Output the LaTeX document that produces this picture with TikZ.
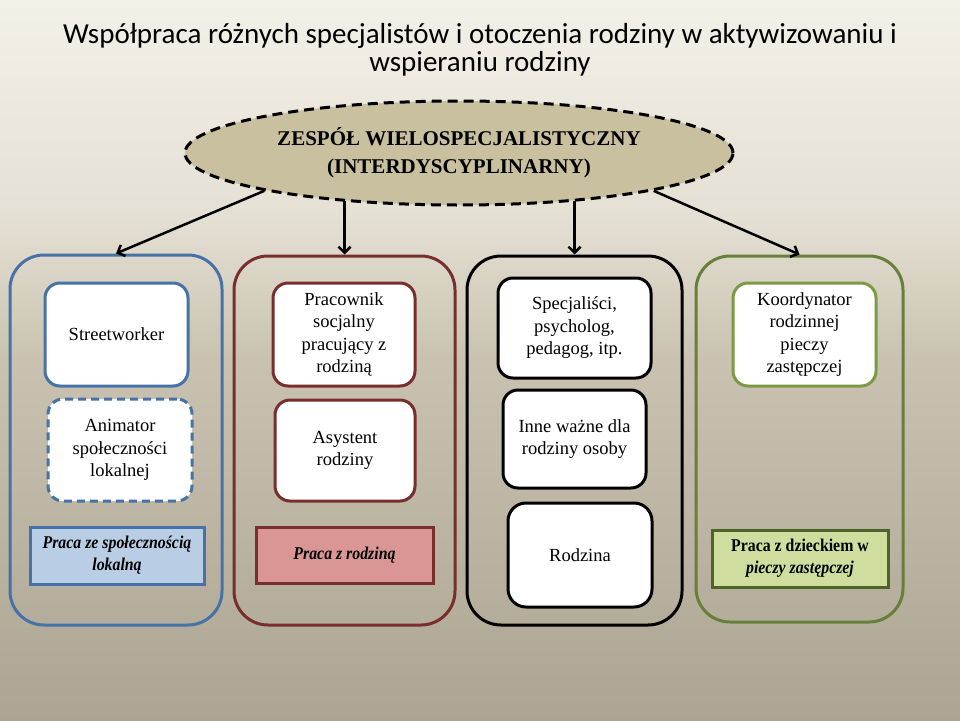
\documentclass[tikz,border=0pt]{standalone}
\usepackage{fontspec}
\setmainfont{Liberation Serif}
\newfontfamily\titlefont{Carlito}
\newfontfamily\condfont[FakeStretch=0.88]{Liberation Serif}
\usetikzlibrary{shapes.geometric,arrows.meta}
\definecolor{bgT}{HTML}{F3F0E8}
\definecolor{bgU}{HTML}{E4E0D4}
\definecolor{bgM}{HTML}{C9C2B0}
\definecolor{bgB}{HTML}{ADA593}
\definecolor{blueC}{HTML}{4672A8}
\definecolor{redC}{HTML}{782E2D}
\definecolor{greenC}{HTML}{687F3A}
\definecolor{greenK}{HTML}{7C9A45}
\definecolor{greenB}{HTML}{4F6228}
\definecolor{blueF}{HTML}{B9CDE5}
\definecolor{redF}{HTML}{DA9694}
\definecolor{greenF}{HTML}{CFDE9E}
\definecolor{ellF}{HTML}{C8C09F}
\pgfdeclareverticalshading{bgshade}{100bp}{color(0bp)=(bgB); color(25bp)=(bgB); color(50bp)=(bgM); color(60bp)=(bgU); color(75bp)=(bgT); color(100bp)=(bgT)}
\begin{document}
\begin{tikzpicture}[x=1pt,y=-1pt,
  grp/.style={draw, line width=3pt, rounded corners=34pt, fill=none},
  wbox/.style={draw, line width=3pt, rounded corners=15pt, fill=white, align=center,
     font=\fontsize{18.5}{22.5}\selectfont, inner sep=2pt},
  lbl/.style={draw, line width=3pt, align=center, font=\condfont\bfseries\itshape\fontsize{18}{22}\selectfont},
  arr/.style={draw=black, line width=2.5pt, -{Straight Barb[length=6pt,width=12pt]}}
]
\useasboundingbox (0,0) rectangle (960,720);
\fill[shading=bgshade] (0,0) rectangle (960,720);

% title
\node[align=center, font=\titlefont\fontsize{29}{28}\selectfont] (title) at (480,50)
  {Współpraca różnych specjalistów i otoczenia rodziny w aktywizowaniu i\\ wspieraniu rodziny};

% ellipse
\node[ellipse, draw, fill=ellF, line width=3pt, dash pattern=on 10pt off 6pt,
  minimum width=548pt, minimum height=104pt, align=center,
  font=\bfseries\fontsize{21}{28}\selectfont] (el) at (459,153)
  {ZESPÓŁ WIELOSPECJALISTYCZNY\\(INTERDYSCYPLINARNY)};

% containers
\node[grp, draw=blueC, minimum width=212pt, minimum height=370pt] (c1) at (116,440) {};
\node[grp, draw=redC, minimum width=221pt, minimum height=369pt] (c2) at (344.5,440.5) {};
\node[grp, draw=black, minimum width=215pt, minimum height=369pt] (c3) at (574.5,440.5) {};
\node[grp, draw=greenC, minimum width=207pt, minimum height=366pt] (c4) at (799.5,439) {};

% arrows
\draw[arr] (el.191) -- (c1.north);
\draw[arr] (c2.north |- el.202.5) -- (c2.north);
\draw[arr] (c3.north |- el.-22.6) -- (c3.north);
\draw[arr] (el.-11) -- (c4.north);

% group 1
\node[wbox, draw=blueC, minimum width=143pt, minimum height=103pt] (b11) at (116.5,334.5) {Streetworker};
\node[wbox, draw=blueC, dash pattern=on 8pt off 5pt, minimum width=144pt, minimum height=102pt] (b12) at (120,450)
  {Animator\\społeczności\\lokalnej};
\node[lbl, draw=blueC, fill=blueF, minimum width=174pt, minimum height=57pt] (b13) at (117,555.5)
  {Praca ze społecznością\\lokalną};

% group 2
\node[wbox, draw=redC, minimum width=142pt, minimum height=103pt] (b21) at (344,334.5)
  {Pracownik\\socjalny\\pracujący z\\rodziną};
\node[wbox, draw=redC, minimum width=140pt, minimum height=101pt] (b22) at (345,450.5)
  {Asystent\\rodziny};
\node[lbl, draw=redC, fill=redF, minimum width=177pt, minimum height=56pt] (b23) at (344.5,555)
  {Praca z rodziną};

% group 3
\node[wbox, draw=black, minimum width=153pt, minimum height=100pt] (b31) at (574.5,328)
  {Specjaliści,\\psycholog,\\pedagog, itp.};
\node[wbox, draw=black, minimum width=143pt, minimum height=98pt] (b32) at (574.5,439)
  {Inne ważne dla\\rodziny osoby};
\node[wbox, draw=black, rounded corners=18pt, minimum width=144pt, minimum height=104pt] (b33) at (580,555)
  {Rodzina};

% group 4
\node[wbox, draw=greenK, minimum width=143pt, minimum height=103pt] (b41) at (804.5,334.5)
  {Koordynator\\rodzinnej\\pieczy\\zastępczej};
\node[lbl, draw=greenB, fill=greenF, minimum width=176pt, minimum height=57pt] (b42) at (800,558.5)
  {{\upshape Praca z dzieckiem w}\\pieczy zastępczej};
\end{tikzpicture}
\end{document}
